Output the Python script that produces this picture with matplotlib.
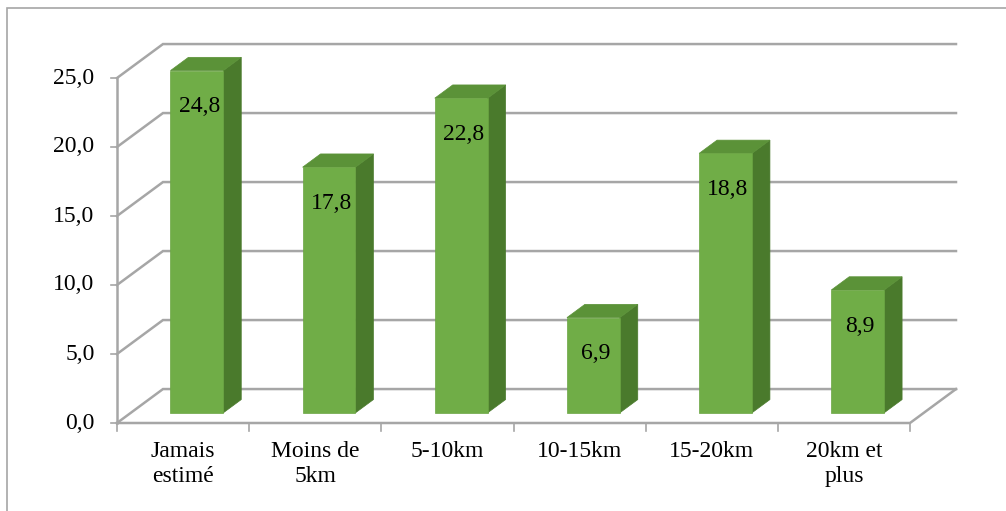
import matplotlib
matplotlib.use("Agg")
import matplotlib.pyplot as plt
from matplotlib.patches import Polygon, Rectangle

plt.rcParams['font.family'] = ['Liberation Serif', 'DejaVu Serif']

categories = ["Jamais\nestimé", "Moins de\n5km", "5-10km", "10-15km", "15-20km", "20km et\nplus"]
values = [24.8, 17.8, 22.8, 6.9, 18.8, 8.9]
yticks = [0, 5, 10, 15, 20, 25]

# oblique offset for one full unit of depth (x in category units, y in value units)
DX, DY = 0.348, 2.46
D0, D1 = 0.30, 0.69          # bar front / back depth
GRID = '#A6A6A6'
FS = 17


def proj(x, y, d):
    return (x + d * DX, y + d * DY)


fig = plt.figure(figsize=(10.06, 5.11), dpi=100)
fig.patches.append(Rectangle((7 / 1006, -0.1), 1.1, 1 - 8 / 511 + 0.1,
                             transform=fig.transFigure, fill=False,
                             edgecolor='#A6A6A6', lw=1.2))

ax = fig.add_axes([117 / 1006, 88 / 511, 793 / 1006, 345 / 511])
ax.set_xlim(0, len(categories))
ax.set_ylim(0, 25)
ax.axis('off')

n = len(categories)

# walls and floor
for v in yticks:
    p1 = proj(0, v, 1)
    p2 = proj(n, v, 1)
    ax.plot([0, p1[0], p2[0]], [v, p1[1], p2[1]], color=GRID, lw=1.8,
            clip_on=False, zorder=1, solid_joinstyle='miter')
    ax.plot([-0.045, 0], [v, v], color=GRID, lw=1.2, clip_on=False)
    ax.text(-0.17, v, f"{v:.1f}".replace('.', ','), ha='right', va='center',
            fontsize=FS)

ax.plot([0, 0], [0, 25], color=GRID, lw=1.8, clip_on=False, zorder=1)
pr = proj(n, 0, 1)
ax.plot([0, n, pr[0]], [0, 0, pr[1]], color=GRID, lw=1.8, clip_on=False,
        zorder=1)
for i in range(n + 1):
    ax.plot([i, i], [0, -0.55], color=GRID, lw=1.2, clip_on=False)

# bars
for i, v in enumerate(values):
    x0, x1 = i + 0.3, i + 0.7
    front = [proj(x0, 0, D0), proj(x1, 0, D0), proj(x1, v, D0), proj(x0, v, D0)]
    side = [proj(x1, 0, D0), proj(x1, 0, D1), proj(x1, v, D1), proj(x1, v, D0)]
    top = [proj(x0, v, D0), proj(x1, v, D0), proj(x1, v, D1), proj(x0, v, D1)]
    ax.add_patch(Polygon(side, closed=True, facecolor='#4A7A2C',
                         edgecolor='#4A7A2C', lw=0.5, clip_on=False, zorder=3))
    ax.add_patch(Polygon(top, closed=True, facecolor='#5B9238',
                         edgecolor='#5B9238', lw=0.5, clip_on=False, zorder=3))
    ax.add_patch(Polygon(front, closed=True, facecolor='#70AD47',
                         edgecolor='#6AA542', lw=0.5, clip_on=False, zorder=4))
    lx, ly = proj(i + 0.5, v - 2.75, 0.35)
    ax.text(lx, ly, f"{v:.1f}".replace('.', ','), ha='center', va='center',
            fontsize=FS, zorder=5)

# category labels
for i, c in enumerate(categories):
    ax.text(i + 0.5, -1.3, c, ha='center', va='top', fontsize=FS,
            linespacing=1.25)

fig.savefig("out.png", dpi=100)
